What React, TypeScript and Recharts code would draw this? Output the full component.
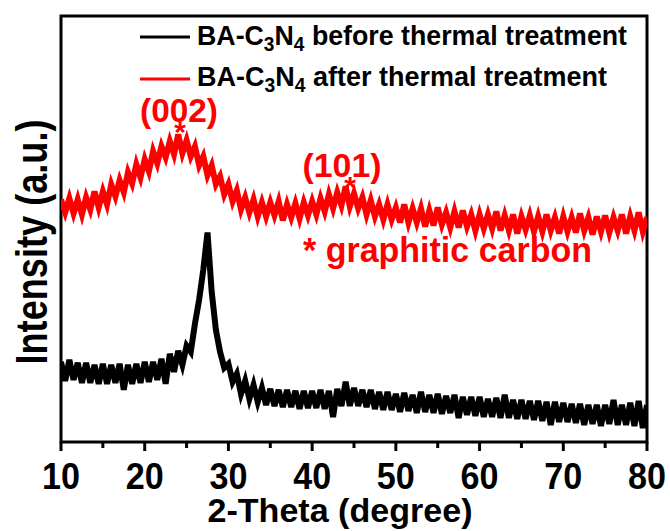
import React from "react";
import { LineChart, Line, XAxis, YAxis, ReferenceArea } from "recharts";

// 2-theta positions (degree)
const twoTheta = [
  10, 10.5, 11, 11.5, 12, 12.5, 13, 13.5, 14, 14.5,
  15, 15.5, 16, 16.5, 17, 17.5, 18, 18.5, 19, 19.5,
  20, 20.5, 21, 21.5, 22, 22.5, 23, 23.5, 24, 24.5,
  25, 25.5, 26, 26.5, 27, 27.5, 28, 28.5, 29, 29.5,
  30, 30.5, 31, 31.5, 32, 32.5, 33, 33.5, 34, 34.5,
  35, 35.5, 36, 36.5, 37, 37.5, 38, 38.5, 39, 39.5,
  40, 40.5, 41, 41.5, 42, 42.5, 43, 43.5, 44, 44.5,
  45, 45.5, 46, 46.5, 47, 47.5, 48, 48.5, 49, 49.5,
  50, 50.5, 51, 51.5, 52, 52.5, 53, 53.5, 54, 54.5,
  55, 55.5, 56, 56.5, 57, 57.5, 58, 58.5, 59, 59.5,
  60, 60.5, 61, 61.5, 62, 62.5, 63, 63.5, 64, 64.5,
  65, 65.5, 66, 66.5, 67, 67.5, 68, 68.5, 69, 69.5,
  70, 70.5, 71, 71.5, 72, 72.5, 73, 73.5, 74, 74.5,
  75, 75.5, 76, 76.5, 77, 77.5, 78, 78.5, 79, 79.5,
  80,
];

// intensity (a.u.)
const beforeTreatment = [
  70, 51, 72, 52, 69, 49, 69, 49, 67, 48,
  68, 48, 67, 49, 68, 42, 67, 48, 68, 49,
  70, 50, 70, 52, 73, 48, 78, 60, 81, 67,
  86, 80, 108, 132, 162, 199, 140, 102, 80, 64,
  68, 50, 58, 38, 51, 33, 47, 30, 44, 27,
  43, 26, 42, 25, 42, 25, 41, 23, 41, 24,
  41, 24, 42, 23, 41, 15, 43, 26, 50, 26,
  44, 26, 42, 25, 42, 23, 40, 22, 40, 22,
  38, 20, 39, 21, 37, 19, 40, 20, 37, 19,
  38, 18, 36, 19, 37, 14, 35, 17, 35, 16,
  35, 15, 33, 15, 34, 14, 37, 14, 32, 13,
  32, 13, 31, 12, 31, 11, 30, 7, 30, 10,
  29, 10, 28, 9, 28, 7, 27, 8, 27, 6,
  27, 8, 32, 7, 27, 7, 29, 6, 31, 4,
  27,
];

const afterTreatment = [
  232, 219, 233, 218, 232, 217, 234, 222, 240, 224,
  240, 227, 247, 235, 251, 239, 259, 248, 267, 254,
  272, 260, 280, 268, 285, 274, 290, 277, 297, 278,
  291, 275, 285, 266, 275, 256, 266, 247, 255, 237,
  247, 230, 241, 222, 234, 219, 232, 215, 229, 215,
  229, 216, 230, 211, 227, 214, 228, 213, 229, 216,
  230, 217, 233, 220, 237, 223, 239, 226, 245, 225,
  238, 223, 234, 217, 231, 215, 227, 212, 227, 212,
  224, 209, 227, 209, 223, 209, 223, 205, 221, 206,
  224, 207, 219, 204, 220, 204, 221, 205, 217, 201,
  217, 203, 217, 203, 220, 201, 216, 201, 217, 198,
  215, 202, 216, 200, 215, 200, 217, 201, 214, 198,
  215, 200, 214, 199, 218, 201, 214, 197, 215, 200,
  216, 199, 214, 201, 217, 198, 215, 201, 219, 200,
  214,
];

const xTicks = [10, 15, 20, 25, 30, 35, 40, 45, 50, 55, 60, 65, 70, 75, 80];

const chartData = twoTheta.map((t, i) => ({
  theta: t,
  before: beforeTreatment[i],
  after: afterTreatment[i],
}));

const FONT = "'Liberation Sans', Arial, Helvetica, sans-serif";
const RED = "#ff0000";

const AxisTick = (props: any) => {
  const { x, y, payload } = props;
  const major = payload.value % 10 === 0;
  return (
    <g>
      <line x1={x} x2={x} y1={y} y2={y + (major ? 9 : 6)} stroke="#000" strokeWidth={3} />
      {major && (
        <text
          x={x}
          y={y + 47}
          textAnchor="middle"
          fontFamily={FONT}
          fontWeight="bold"
          fontSize={37}
          textLength={38}
          lengthAdjust="spacingAndGlyphs"
          fill="#000"
        >
          {payload.value}
        </text>
      )}
    </g>
  );
};

const Formula = ({ size, sub }: { size: number; sub: number }) => (
  <>
    BA-C
    <tspan fontSize={sub} dy={6}>3</tspan>
    <tspan fontSize={size} dy={-6}>N</tspan>
    <tspan fontSize={sub} dy={6}>4</tspan>
  </>
);

export default function App() {
  return (
    <div style={{ position: "relative", width: 670, height: 531, background: "#fff" }}>
      <style>{`body{margin:0}`}</style>
      <LineChart
        width={670}
        height={531}
        data={chartData}
        margin={{ top: 16, right: 23, left: 61, bottom: 29 }}
      >
        <XAxis
          dataKey="theta"
          type="number"
          domain={[10, 80]}
          ticks={xTicks}
          allowDataOverflow
          axisLine={false}
          tickLine={false}
          tickSize={0}
          tickMargin={0}
          height={60}
          tick={<AxisTick />}
        />
        <YAxis hide domain={[-10, 415]} allowDataOverflow />
        <Line
          dataKey="before"
          type="linear"
          stroke="#000"
          strokeWidth={6}
          dot={false}
          isAnimationActive={false}
        />
        <Line
          dataKey="after"
          type="linear"
          stroke={RED}
          strokeWidth={6}
          dot={false}
          isAnimationActive={false}
        />
        <ReferenceArea x1={10} x2={80} y1={-10} y2={415} fill="none" stroke="#000" strokeWidth={3} />
      </LineChart>

      <svg
        width={670}
        height={531}
        style={{ position: "absolute", left: 0, top: 0, pointerEvents: "none" }}
        fontFamily={FONT}
        fontWeight="bold"
      >
        {/* legend */}
        <line x1={140} x2={190} y1={37} y2={37} stroke="#000" strokeWidth={3} />
        <text x={197} y={45} fontSize={28} fill="#000" textLength={430} lengthAdjust="spacingAndGlyphs">
          <Formula size={28} sub={20} />
          <tspan fontSize={28} dy={-6}>{" before thermal treatment"}</tspan>
        </text>
        <line x1={140} x2={190} y1={79} y2={79} stroke={RED} strokeWidth={3} />
        <text x={197} y={86} fontSize={28} fill="#000" textLength={410} lengthAdjust="spacingAndGlyphs">
          <Formula size={28} sub={20} />
          <tspan fontSize={28} dy={-6}>{" after thermal treatment"}</tspan>
        </text>

        {/* peak labels */}
        <text x={179} y={122} fontSize={34} fill={RED} textAnchor="middle" textLength={78} lengthAdjust="spacingAndGlyphs">
          (002)
        </text>
        <text x={180} y={142} fontSize={30} fill={RED} textAnchor="middle">*</text>
        <text x={342} y={177} fontSize={34} fill={RED} textAnchor="middle" textLength={79} lengthAdjust="spacingAndGlyphs">
          (101)
        </text>
        <text x={350} y={197} fontSize={30} fill={RED} textAnchor="middle">*</text>
        <text x={303} y={262} fontSize={35} fill={RED} textLength={289} lengthAdjust="spacingAndGlyphs">
          * graphitic carbon
        </text>

        {/* axis titles */}
        <text x={340} y={522} fontSize={33} fill="#000" textAnchor="middle" textLength={265} lengthAdjust="spacingAndGlyphs">
          2-Theta (degree)
        </text>
        <text
          transform="translate(47,242) rotate(-90)"
          fontSize={44}
          fill="#000"
          textAnchor="middle"
          textLength={245}
          lengthAdjust="spacingAndGlyphs"
        >
          Intensity (a.u.)
        </text>
      </svg>
    </div>
  );
}
